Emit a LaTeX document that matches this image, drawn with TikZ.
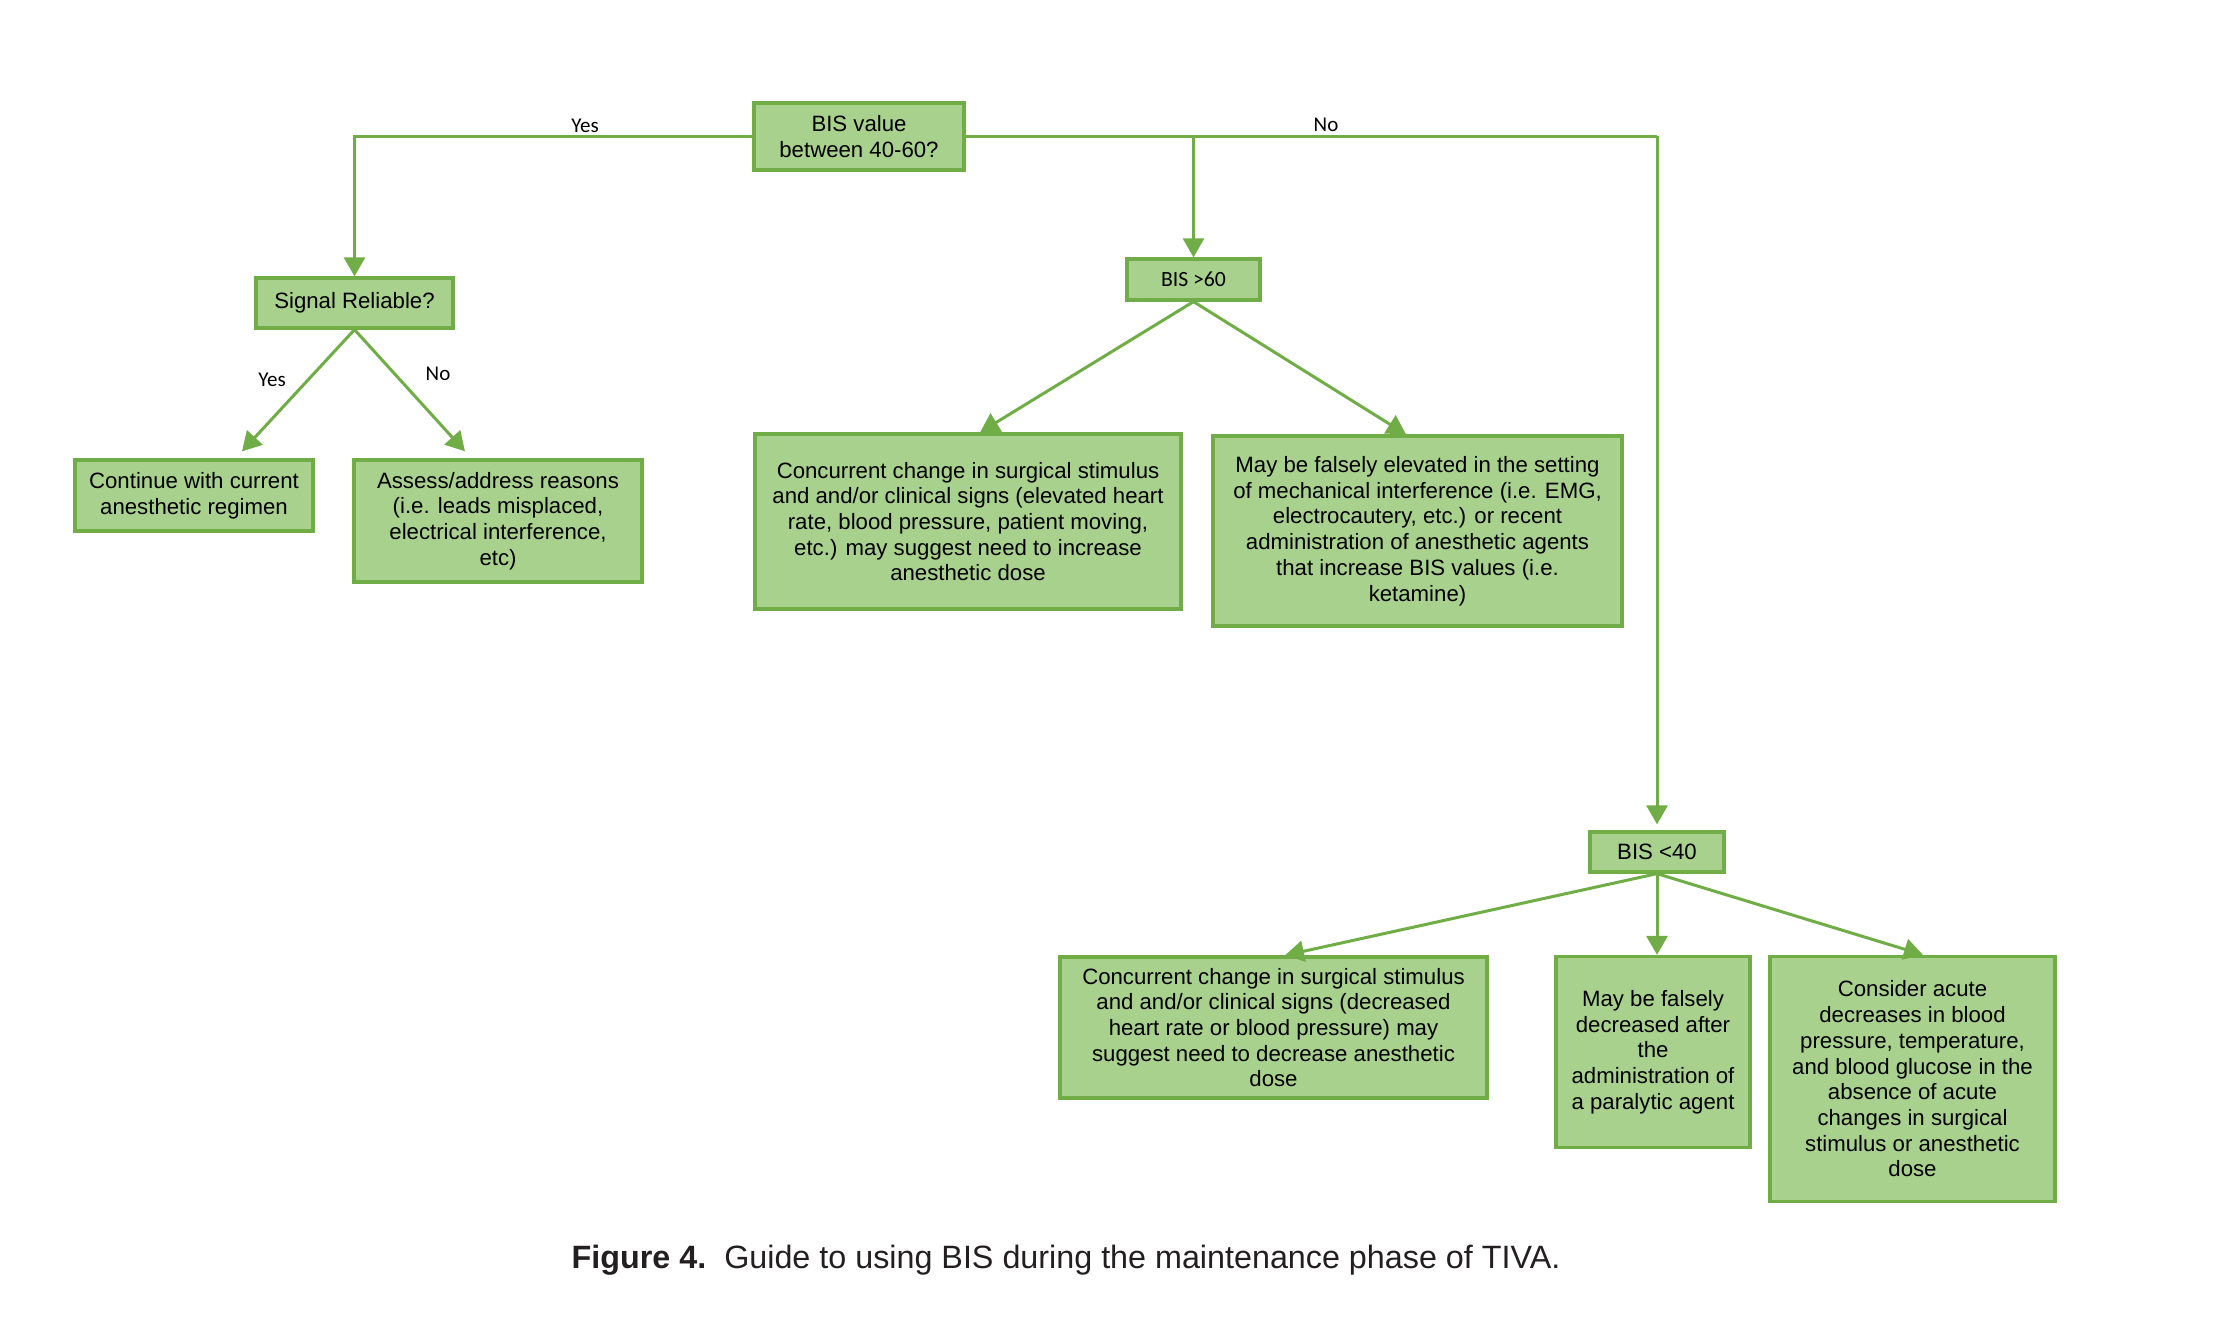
\documentclass[tikz,border=0pt]{standalone}
\usepackage{fontspec}
\setmainfont{Liberation Sans}
\newfontfamily\calib{Carlito}
\usetikzlibrary{arrows.meta}
\definecolor{boxfill}{HTML}{A9D18E}
\definecolor{boxline}{HTML}{70AD47}
\definecolor{captext}{HTML}{231F20}
\begin{document}
\begin{tikzpicture}[x=1pt,y=-1pt,
  box/.style={draw=boxline, fill=boxfill, line width=3.3pt, inner sep=0pt, align=center,
    font=\fontsize{22.2}{25.7}\selectfont, text=black},
  conn/.style={draw=boxline, line width=3pt, -{Triangle[length=19pt,width=21pt]}},
  plainline/.style={draw=boxline, line width=3pt},
  lbl/.style={font=\calib\fontsize{21}{24}\selectfont, inner sep=0pt, text=black}]
\useasboundingbox (0,0) rectangle (2215,1324);

% nodes
\node[box, minimum width=210pt, minimum height=67pt] (bisval) at (859,136.5) {BIS value\\between 40-60?};
\node[box, minimum width=197pt, minimum height=50pt] (sig) at (354.5,303) {Signal Reliable?};
\node[box, minimum width=238pt, minimum height=71pt] (cont) at (194,495.5) {Continue with current\\anesthetic regimen};
\node[box, minimum width=288pt, minimum height=122pt] (assess) at (498,521) {Assess/address reasons\\(i.e. leads misplaced,\\electrical interference,\\etc)};
\node[box, minimum width=133pt, minimum height=41pt, font=\calib\fontsize{21.7}{25}\selectfont] (bis60) at (1193.5,279.5) {BIS >60};
\node[box, minimum width=426pt, minimum height=175pt] (elev) at (968,521.5) {Concurrent change in surgical stimulus\\and and/or clinical signs (elevated heart\\rate, blood pressure, patient moving,\\etc.) may suggest need to increase\\anesthetic dose};
\node[box, minimum width=409pt, minimum height=190pt] (false) at (1417.5,531) {May be falsely elevated in the setting\\of mechanical interference (i.e. EMG,\\electrocautery, etc.) or recent\\administration of anesthetic agents\\that increase BIS values (i.e.\\ketamine)};
\node[box, minimum width=134pt, minimum height=40pt] (bis40) at (1657,852) {BIS <40};
\node[box, minimum width=427pt, minimum height=141pt] (dec) at (1273.5,1027.5) {Concurrent change in surgical stimulus\\and and/or clinical signs (decreased\\heart rate or blood pressure) may\\suggest need to decrease anesthetic\\dose};
\node[box, minimum width=194pt, minimum height=191pt] (para) at (1653,1052) {May be falsely\\decreased after\\the\\administration of\\a paralytic agent};
\node[box, minimum width=285pt, minimum height=245pt] (cons) at (1912.5,1079) {Consider acute\\decreases in blood\\pressure, temperature,\\and blood glucose in the\\absence of acute\\changes in surgical\\stimulus or anesthetic\\dose};

% connectors
\draw[conn] (bisval.west) -| (sig.north);
\draw[plainline] (bisval.east) -- (bisval.east -| bis40.north);
\draw[conn] (bisval.east -| bis60.north) -- (bis60.north);
\draw[conn] (bisval.east -| bis40.north) -- ([yshift=6pt]bis40.north);
\draw[conn] (sig.south) -- ([xshift=48pt,yshift=7pt]cont.north);
\draw[conn] (sig.south) -- ([xshift=-33pt,yshift=7pt]assess.north);
\draw[conn] (bis60.south) -- ([xshift=12pt]elev.north);
\draw[conn] (bis60.south) -- ([xshift=-11.5pt]false.north);
\draw[conn] (bis40.south) -- ([xshift=11.5pt]dec.north);
\draw[conn] (bis40.south) -- (bis40.south |- para.north);
\draw[conn] (bis40.south) -- ([xshift=10.5pt]cons.north);

% labels
\node[lbl] (yes1) at (585,126) {Yes};
\node[lbl] (no1) at (1326,125) {No};
\node[lbl] (yes2) at (272,380) {Yes};
\node[lbl] (no2) at (438,374) {No};

% caption
\node[font=\fontsize{32.3}{37}\selectfont, text=captext, inner sep=0pt] (cap) at (1066,1260)
  {\textbf{Figure 4.}\hspace{18pt}Guide to using BIS during the maintenance phase of TIVA.};
\end{tikzpicture}
\end{document}
